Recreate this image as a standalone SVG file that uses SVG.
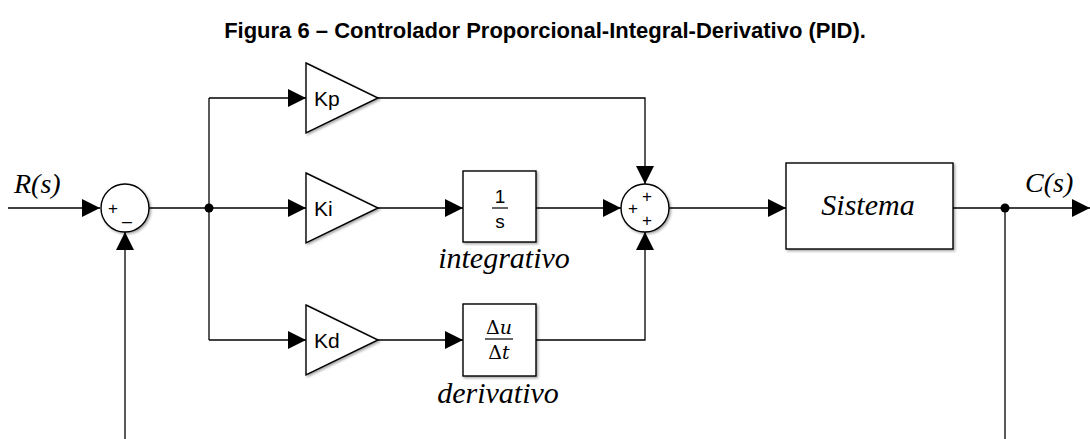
<svg xmlns="http://www.w3.org/2000/svg" width="1090" height="439" viewBox="0 0 1090 439">
  <style>
    .wire { fill: none; stroke: #000; stroke-width: 1.3; }
    .blk { fill: #fff; stroke: #000; stroke-width: 1.4; filter: url(#shadow); }
    .sans { font-family: "Liberation Sans", Arial, sans-serif; fill: #000; }
    .serif { font-family: "Liberation Serif", "Times New Roman", serif; font-style: italic; fill: #000; }
    .sign { font-family: "Liberation Sans", Arial, sans-serif; font-size: 17px; fill: #000; text-anchor: middle; }
  </style>
  <defs>
    <marker id="arrow" viewBox="0 0 18 18" refX="18" refY="9" markerWidth="18" markerHeight="18" markerUnits="userSpaceOnUse" orient="auto">
      <path d="M0,0 L18,9 L0,18 Z" fill="#000"/>
    </marker>
    <filter id="shadow" x="-10%" y="-10%" width="130%" height="130%">
      <feDropShadow dx="1.5" dy="1.5" stdDeviation="1" flood-color="#000" flood-opacity="0.35"/>
    </filter>
  </defs>

  <rect width="1090" height="439" fill="#fff"/>

  <text class="sans" x="545" y="38" font-size="22" font-weight="bold" text-anchor="middle">Figura 6 – Controlador Proporcional-Integral-Derivativo (PID).</text>

  <g id="connectors">
    <path class="wire" d="M8,208 H100" marker-end="url(#arrow)"/>
    <path class="wire" d="M125,439 V232" marker-end="url(#arrow)"/>
    <path class="wire" d="M149,208 H209"/>
    <path class="wire" d="M209,98 V340"/>
    <path class="wire" d="M209,98 H306" marker-end="url(#arrow)"/>
    <path class="wire" d="M209,208 H306" marker-end="url(#arrow)"/>
    <path class="wire" d="M209,340 H306" marker-end="url(#arrow)"/>
    <path class="wire" d="M378,98 H645 V184" marker-end="url(#arrow)"/>
    <path class="wire" d="M378,208 H463" marker-end="url(#arrow)"/>
    <path class="wire" d="M536,208 H621" marker-end="url(#arrow)"/>
    <path class="wire" d="M378,340 H463" marker-end="url(#arrow)"/>
    <path class="wire" d="M536,340 H645 V232" marker-end="url(#arrow)"/>
    <path class="wire" d="M669,208 H786" marker-end="url(#arrow)"/>
    <path class="wire" d="M953,208 H1090" marker-end="url(#arrow)"/>
    <path class="wire" d="M1005,208 V439"/>
    <circle cx="209" cy="208" r="4.5" fill="#000"/>
    <circle cx="1005" cy="208" r="4.5" fill="#000"/>
  </g>

  <text class="serif" x="14" y="193" font-size="28">R(s)</text>
  <text class="serif" x="1025" y="192" font-size="28">C(s)</text>

  <g id="sum1">
    <circle class="blk" cx="125" cy="208" r="24"/>
    <text class="sign" x="113" y="214">+</text>
    <text class="sign" x="127" y="220">_</text>
  </g>

  <g id="kp">
    <path class="blk" d="M306,63 L378,98 L306,133 Z"/>
    <text class="sans" x="314" y="106" font-size="21">Kp</text>
  </g>

  <g id="ki">
    <path class="blk" d="M306,173 L378,208 L306,243 Z"/>
    <text class="sans" x="314" y="216" font-size="21">Ki</text>
  </g>

  <g id="kd">
    <path class="blk" d="M306,305 L378,340 L306,375 Z"/>
    <text class="sans" x="314" y="348" font-size="21">Kd</text>
  </g>

  <g id="integrator">
    <rect class="blk" x="463" y="171" width="73" height="71"/>
    <text class="sans" x="500" y="203" font-size="19" text-anchor="middle">1</text>
    <line x1="492" y1="208" x2="508" y2="208" stroke="#000" stroke-width="1.2"/>
    <text class="sans" x="500" y="228" font-size="19" text-anchor="middle">s</text>
    <text class="serif" x="504" y="268" font-size="30" text-anchor="middle">integrativo</text>
  </g>

  <g id="derivative">
    <rect class="blk" x="463" y="304" width="73" height="72"/>
    <text x="499" y="334" font-size="19" text-anchor="middle" font-family="'DejaVu Serif', serif" fill="#000">Δ<tspan font-style="italic">u</tspan></text>
    <line x1="485" y1="339" x2="513" y2="339" stroke="#000" stroke-width="1.2"/>
    <text x="499" y="359" font-size="19" text-anchor="middle" font-family="'DejaVu Serif', serif" fill="#000">Δ<tspan font-style="italic">t</tspan></text>
    <text class="serif" x="498" y="403" font-size="30" text-anchor="middle">derivativo</text>
  </g>

  <g id="sum2">
    <circle class="blk" cx="645" cy="208" r="24"/>
    <text class="sign" x="633" y="214">+</text>
    <text class="sign" x="647" y="202">+</text>
    <text class="sign" x="647" y="226">+</text>
  </g>

  <g id="sistema">
    <rect class="blk" x="786" y="163" width="167" height="86"/>
    <text class="serif" x="868" y="215" font-size="30" text-anchor="middle">Sistema</text>
  </g>
</svg>
